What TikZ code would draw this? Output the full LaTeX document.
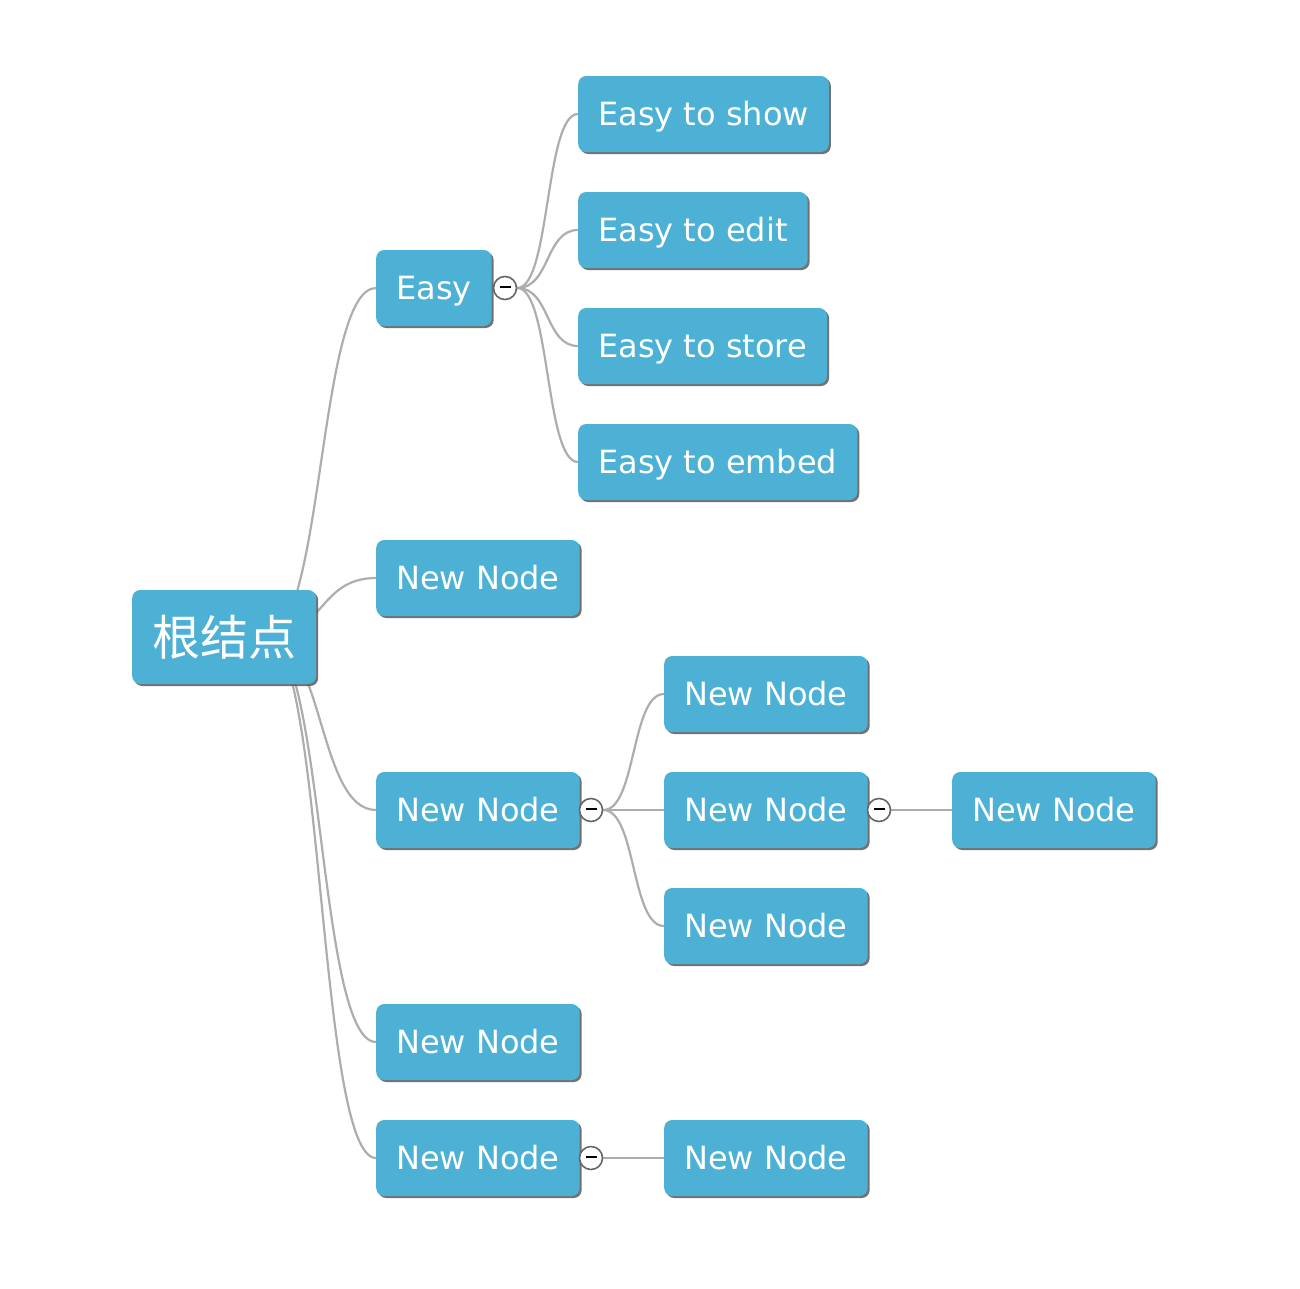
\documentclass[tikz,border=0pt]{standalone}
\usepackage{fontspec}
\setmainfont{DejaVu Sans}
\newfontfamily\cjk{Noto Sans CJK SC}
\usetikzlibrary{shadows,backgrounds}
\definecolor{topicblue}{HTML}{4DB1D6}
\definecolor{linkgray}{HTML}{ADADAD}
\tikzset{
  topic/.style={fill=topicblue, text=white, rounded corners=8pt, anchor=west,
    minimum height=76pt, inner xsep=20pt, text height=23pt, text depth=0pt,
    font=\fontsize{32}{36}\selectfont,
    drop shadow={shadow xshift=2pt, shadow yshift=-2pt, fill=black!65, opacity=.85}},
  rootbox/.style={topic, minimum height=94pt, text height=40pt, text depth=4pt,
    font=\cjk\fontsize{48}{52}\selectfont},
  bullet/.style={circle, draw=black!60, fill=white, line width=1.6pt,
    minimum size=23pt, inner sep=0pt},
  minus/.style={line width=1.8pt, black},
  link/.style={draw=linkgray, line width=2.2pt, out=0, in=180, distance=#1}
}
\begin{document}
\begin{tikzpicture}[x=1pt, y=-1pt]
  \useasboundingbox (0,0) rectangle (1300,1288);
  % root and first level
  \node[rootbox] (root) at (132,637) {根结点};
  \coordinate (rootout) at (266,637);
  \node[topic] (easy) at (376,288) {Easy};
  \node[topic] (nna) at (376,578) {New Node};
  \node[topic] (nnb) at (376,810) {New Node};
  \node[topic] (nnc) at (376,1042) {New Node};
  \node[topic] (nnd) at (376,1158) {New Node};
  % children of Easy
  \foreach \name/\txt/\y in {show/Easy to show/114, edit/Easy to edit/230,
      store/Easy to store/346, embed/Easy to embed/462}
    \node[topic] (\name) at (578,\y) {\txt};
  % children of the other nodes
  \node[topic] (nnba) at (664,694) {New Node};
  \node[topic] (nnbb) at (664,810) {New Node};
  \node[topic] (nnbc) at (664,926) {New Node};
  \node[topic] (nnbba) at (952,810) {New Node};
  \node[topic] (nnda) at (664,1158) {New Node};
  % collapse buttons
  \node[bullet] (easybtn) at (505,288) {};
  \node[bullet] (nnbbtn) at (591,810) {};
  \node[bullet] (nnbbbtn) at (879,810) {};
  \node[bullet] (nndbtn) at (591,1158) {};
  \foreach \b in {easybtn, nnbbtn, nnbbbtn, nndbtn}
    \draw[minus] ([xshift=-5.5pt, yshift=1pt]\b.center) -- ([xshift=5.5pt, yshift=1pt]\b.center);
  % connectors
  \begin{scope}[on background layer]
    \foreach \t in {easy, nna, nnb, nnc, nnd}
      \draw[link=58pt] (rootout) to (\t.west);
    \foreach \t in {show, edit, store, embed}
      \draw[link=33pt] (easybtn.east) to (\t.west);
    \foreach \t in {nnba, nnbb, nnbc}
      \draw[link=33pt] (nnbbtn.east) to (\t.west);
    \draw[link=20pt] (nnbbbtn.east) -- (nnbba.west);
    \draw[link=20pt] (nndbtn.east) -- (nnda.west);
  \end{scope}
\end{tikzpicture}
\end{document}
